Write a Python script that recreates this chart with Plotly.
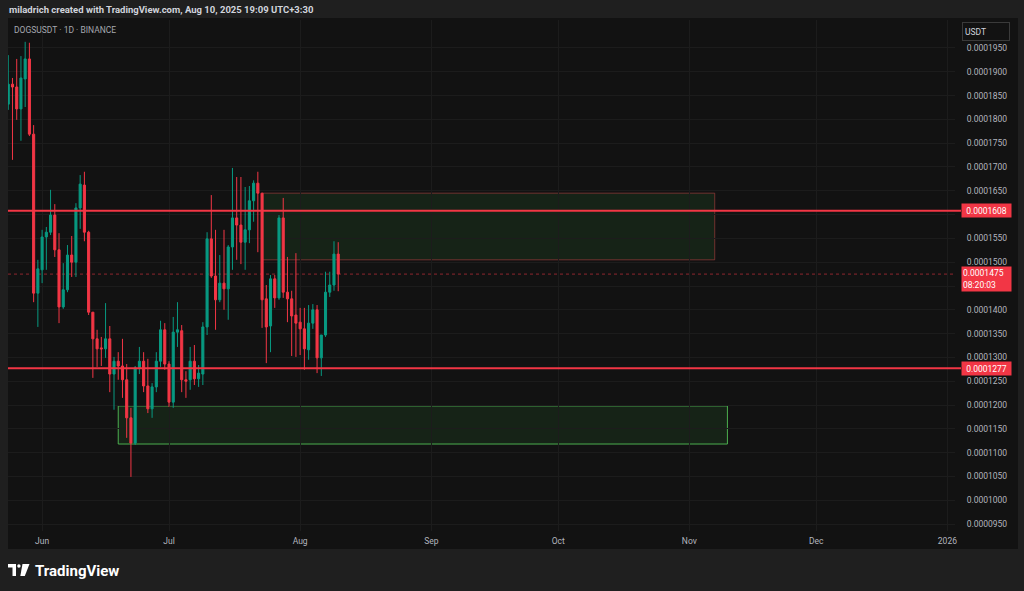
import plotly.graph_objects as go
import pandas as pd

SCALE = 1e-7  # prices below are in units of 0.0000001 USDT

# ---- daily candles DOGSUSDT (1D) ----
dates = pd.date_range("2025-05-24", periods=79, freq="D")
opens = [1832, 1874, 1868, 1822, 1885, 1927, 1769, 1435, 1484, 1553,
         1563, 1599, 1526, 1406, 1442, 1515, 1500, 1614, 1662, 1563,
         1395, 1339, 1320, 1318, 1339, 1265, 1292, 1282, 1253, 1173,
         1120, 1278, 1292, 1240, 1192, 1238, 1292, 1358, 1286, 1206,
         1353, 1356, 1253, 1253, 1292, 1255, 1265, 1364, 1549, 1471,
         1421, 1456, 1444, 1532, 1593, 1578, 1542, 1568, 1629, 1666,
         1645, 1423, 1366, 1465, 1425, 1593, 1437, 1423, 1389, 1374,
         1360, 1316, 1372, 1400, 1299, 1347, 1437, 1452, 1517]
highs = [1935, 1887, 1927, 1933, 1963, 1961, 1788, 1505, 1568, 1574,
         1652, 1622, 1561, 1498, 1536, 1555, 1624, 1683, 1690, 1566,
         1395, 1358, 1343, 1414, 1366, 1301, 1311, 1339, 1286, 1194,
         1282, 1322, 1311, 1297, 1246, 1311, 1377, 1372, 1292, 1385,
         1416, 1368, 1271, 1322, 1326, 1284, 1374, 1563, 1641, 1568,
         1515, 1568, 1536, 1698, 1679, 1679, 1658, 1660, 1672, 1690,
         1645, 1452, 1473, 1473, 1599, 1635, 1511, 1440, 1519, 1404,
         1404, 1410, 1412, 1410, 1347, 1480, 1480, 1544, 1542]
lows = [1820, 1715, 1799, 1755, 1826, 1765, 1416, 1364, 1456, 1484,
        1557, 1511, 1372, 1402, 1437, 1469, 1469, 1570, 1544, 1389,
        1257, 1280, 1282, 1299, 1227, 1190, 1253, 1215, 1131, 1049,
        1116, 1265, 1227, 1183, 1173, 1227, 1280, 1274, 1196, 1194,
        1322, 1227, 1215, 1232, 1242, 1238, 1242, 1347, 1467, 1358,
        1416, 1400, 1379, 1484, 1505, 1496, 1484, 1540, 1585, 1521,
        1362, 1288, 1311, 1404, 1421, 1425, 1374, 1303, 1301, 1305,
        1274, 1295, 1360, 1267, 1261, 1343, 1427, 1440, 1439]
closes = [1874, 1868, 1822, 1887, 1927, 1769, 1435, 1486, 1553, 1563,
          1599, 1526, 1406, 1442, 1515, 1500, 1614, 1664, 1563, 1395,
          1339, 1318, 1318, 1339, 1265, 1292, 1282, 1253, 1173, 1120,
          1278, 1292, 1240, 1192, 1238, 1292, 1358, 1286, 1206, 1353,
          1358, 1253, 1250, 1292, 1255, 1267, 1364, 1549, 1471, 1421,
          1456, 1444, 1532, 1593, 1578, 1542, 1568, 1629, 1666, 1645,
          1421, 1364, 1465, 1425, 1593, 1437, 1423, 1387, 1372, 1360,
          1318, 1372, 1400, 1299, 1347, 1437, 1452, 1517, 1475]

# ---- axis ticks ----
price_ticks = [950, 1000, 1050, 1100, 1150, 1200, 1250, 1300, 1350, 1400,
               1450, 1500, 1550, 1600, 1650, 1700, 1750, 1800, 1850, 1900, 1950]
hidden_ticks = [1450, 1600]  # covered by the price labels in the reference
month_ticks = ["2025-06-01", "2025-07-01", "2025-08-01", "2025-09-01",
               "2025-10-01", "2025-11-01", "2025-12-01", "2026-01-01"]
month_labels = ["Jun", "Jul", "Aug", "Sep", "Oct", "Nov", "Dec", "2026"]

# ---- drawings ----
resistance = 1608
support = 1277
last_price = 1475
countdown = "08:20:03"
upper_zone = dict(start="2025-07-23", end="2025-11-07", top=1645, bottom=1505)
lower_zone = dict(start="2025-06-19", end="2025-11-10", top=1198, bottom=1118)

GREEN = "#089981"
RED = "#f23645"
TXT = "#b2b5be"
W, H = 1024, 591
ML, MR, MT, MB = 8, 69, 20, 60
PW, PH = W - ML - MR, H - MT - MB


def pxx(x):
    return (x - ML) / PW


def pxy(y):
    return (H - MB - y) / PH


fig = go.Figure()
fig.add_trace(go.Candlestick(
    x=dates,
    open=[v * SCALE for v in opens],
    high=[v * SCALE for v in highs],
    low=[v * SCALE for v in lows],
    close=[v * SCALE for v in closes],
    increasing=dict(line=dict(color=GREEN, width=1), fillcolor=GREEN),
    decreasing=dict(line=dict(color=RED, width=1), fillcolor=RED),
    hoverinfo="skip",
    showlegend=False,
))

shapes = []
# chart panel background (includes price-axis and time-axis area)
shapes.append(dict(type="rect", xref="paper", yref="paper",
                   x0=pxx(8), x1=pxx(1018), y0=pxy(549), y1=pxy(18),
                   fillcolor="#121212", line=dict(width=0), layer="below"))
# zones
shapes.append(dict(type="rect", xref="x", yref="y",
                   x0=upper_zone["start"], x1=upper_zone["end"],
                   y0=upper_zone["bottom"] * SCALE, y1=upper_zone["top"] * SCALE,
                   fillcolor="rgba(46,125,50,0.16)",
                   line=dict(color="rgba(190,70,70,0.55)", width=1), layer="below"))
shapes.append(dict(type="rect", xref="x", yref="y",
                   x0=lower_zone["start"], x1=lower_zone["end"],
                   y0=lower_zone["bottom"] * SCALE, y1=lower_zone["top"] * SCALE,
                   fillcolor="rgba(46,125,50,0.16)",
                   line=dict(color="#4caf50", width=1), layer="below"))
# horizontal levels
for lvl in (resistance, support):
    shapes.append(dict(type="line", xref="paper", yref="y",
                       x0=0, x1=pxx(961), y0=lvl * SCALE, y1=lvl * SCALE,
                       line=dict(color=RED, width=2)))
shapes.append(dict(type="line", xref="paper", yref="y",
                   x0=0, x1=1, y0=last_price * SCALE, y1=last_price * SCALE,
                   line=dict(color="rgba(242,54,69,0.55)", width=1, dash="dot"),
                   layer="below"))
# TradingView logo glyph
shapes.append(dict(type="path", xref="paper", yref="paper",
                   path=(f"M {pxx(8)},{pxy(564)} L {pxx(16)},{pxy(564)} L {pxx(16)},{pxy(576)} "
                         f"L {pxx(12.5)},{pxy(576)} L {pxx(12.5)},{pxy(567.5)} L {pxx(8)},{pxy(567.5)} Z"),
                   fillcolor="#ffffff", line=dict(width=0)))
shapes.append(dict(type="circle", xref="paper", yref="paper",
                   x0=pxx(17.2), x1=pxx(20.6), y0=pxy(567.7), y1=pxy(564.3),
                   fillcolor="#ffffff", line=dict(width=0)))
shapes.append(dict(type="path", xref="paper", yref="paper",
                   path=(f"M {pxx(22.5)},{pxy(564)} L {pxx(29.5)},{pxy(564)} L {pxx(24.8)},{pxy(576)} "
                         f"L {pxx(20.3)},{pxy(576)} Z"),
                   fillcolor="#ffffff", line=dict(width=0)))

annotations = [
    dict(text="<b>miladrich created with TradingView.com, Aug 10, 2025 19:09 UTC+3:30</b>",
         xref="paper", yref="paper", x=pxx(7), y=pxy(10), xanchor="left", yanchor="middle",
         showarrow=False, font=dict(family="Roboto", size=9.5, color="#d1d4dc")),
    dict(text="DOGSUSDT · 1D · BINANCE",
         xref="paper", yref="paper", x=pxx(12), y=pxy(30), xanchor="left", yanchor="middle",
         showarrow=False, font=dict(family="Roboto", size=8.5, color="#a5a8b0")),
    dict(text="USDT", xref="paper", yref="paper", x=pxx(962), y=pxy(31),
         xanchor="left", yanchor="middle", showarrow=False, align="left",
         width=42, height=13, borderpad=2, bordercolor="#3a3a3a", borderwidth=1,
         bgcolor="#121212", font=dict(family="Roboto", size=8.5, color="#d1d4dc")),
    dict(text=f"0.000{resistance}", xref="paper", yref="y", x=pxx(961), y=resistance * SCALE,
         xanchor="left", yanchor="middle", showarrow=False, bgcolor=RED, borderpad=1,
         width=47, height=11, font=dict(family="Roboto", size=8.5, color="#ffffff")),
    dict(text=f"0.000{support}", xref="paper", yref="y", x=pxx(961), y=support * SCALE,
         xanchor="left", yanchor="middle", showarrow=False, bgcolor=RED, borderpad=1,
         width=47, height=11, font=dict(family="Roboto", size=8.5, color="#ffffff")),
    dict(text=f"0.000{last_price}<br>{countdown}", xref="paper", yref="paper", x=pxx(961), y=pxy(279),
         xanchor="left", yanchor="middle", showarrow=False, bgcolor=RED, borderpad=1,
         width=47, height=22, align="left", font=dict(family="Roboto", size=8.5, color="#ffffff")),
    dict(text="<b>TradingView</b>", xref="paper", yref="paper", x=pxx(33), y=pxy(570.5),
         xanchor="left", yanchor="middle", showarrow=False,
         font=dict(family="Roboto", size=15, color="#ffffff")),
]

fig.update_layout(
    width=W, height=H,
    margin=dict(l=ML, r=MR, t=MT, b=MB),
    paper_bgcolor="#1f1f1f",
    plot_bgcolor="#121212",
    shapes=shapes,
    annotations=annotations,
    showlegend=False,
    xaxis=dict(
        range=["2025-05-23 22:34", "2026-01-02 19:12"],
        rangeslider=dict(visible=False),
        tickvals=month_ticks, ticktext=month_labels,
        showgrid=True, gridcolor="#1c1c1c", gridwidth=1,
        zeroline=False, showline=False,
        ticks="outside", ticklen=2, tickcolor="rgba(0,0,0,0)",
        tickfont=dict(family="Roboto", size=8.5, color=TXT),
    ),
    yaxis=dict(
        side="right",
        range=[935.3 * SCALE, 2008.8 * SCALE],
        tickvals=[v * SCALE for v in price_ticks],
        ticktext=["" if v in hidden_ticks else f"{v * SCALE:.7f}" for v in price_ticks],
        showgrid=True, gridcolor="#1c1c1c", gridwidth=1,
        zeroline=False, showline=False,
        ticks="outside", ticklen=9, tickcolor="rgba(0,0,0,0)",
        tickfont=dict(family="Roboto", size=8.5, color=TXT),
    ),
)

fig.write_html("out.html", config={"displayModeBar": False},
               post_script="document.body.style.margin='0';document.body.style.overflow='hidden';")
